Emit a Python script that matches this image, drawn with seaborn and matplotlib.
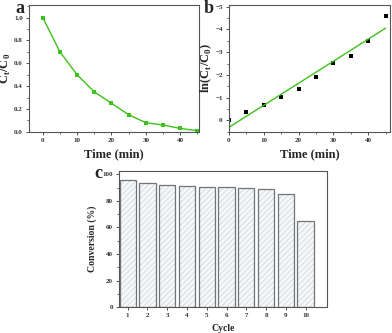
import numpy as np
import pandas as pd
import matplotlib.pyplot as plt
import seaborn as sns
from matplotlib.ticker import MultipleLocator

# panel a: C/C0 vs time
time_min = [0, 5, 10, 15, 20, 25, 30, 35, 40, 45]
c_ratio = [1.0, 0.70, 0.50, 0.35, 0.25, 0.15, 0.08, 0.06, 0.03, 0.01]

# panel b: ln(C/C0) points + linear fit
ln_ratio = [0.0, -0.36, -0.69, -1.05, -1.39, -1.90, -2.53, -2.81, -3.50, -4.60]
fit_x = [0, 45]
fit_y = [0.30, -4.05]

# panel c: conversion per cycle
cycles = [1, 2, 3, 4, 5, 6, 7, 8, 9, 10]
conversion = [95.5, 93.5, 92.0, 91.5, 90.5, 90.2, 90.0, 89.0, 85.0, 65.0]

sns.set_style("ticks")
plt.rcParams['font.family'] = ['Liberation Serif', 'DejaVu Serif']
plt.rcParams['font.weight'] = 'bold'
plt.rcParams['axes.labelweight'] = 'bold'
plt.rcParams['hatch.linewidth'] = 0.4

green = '#3cc21a'
fig = plt.figure(figsize=(3.92, 3.33), dpi=100)

def style(ax):
    for s in ax.spines.values():
        s.set_linewidth(0.8)
        s.set_color('#555555')
        s.set_visible(True)
    ax.tick_params(labelsize=5, width=0.6, length=2.5, colors='#333333', pad=2)
    ax.tick_params(which='minor', width=0.5, length=1.5)
    for t in ax.get_xticklabels() + ax.get_yticklabels():
        t.set_fontweight('bold')

# a
ax1 = fig.add_axes([0.074, 0.604, 0.434, 0.381])
sns.lineplot(x=time_min, y=c_ratio, ax=ax1, color=green, lw=1.0,
             marker='s', markersize=2.5, markeredgewidth=0)
ax1.set_xlim(-4, 45.5)
ax1.set_ylim(0, 1.11)
ax1.xaxis.set_major_locator(MultipleLocator(10))
ax1.xaxis.set_minor_locator(MultipleLocator(5))
ax1.yaxis.set_major_locator(MultipleLocator(0.2))
ax1.yaxis.set_minor_locator(MultipleLocator(0.1))
ax1.yaxis.set_major_formatter(plt.FormatStrFormatter('%.1f'))
ax1.set_xlabel('Time (min)', fontsize=9, labelpad=4)
ax1.set_ylabel(r'C$_\mathregular{t}$/C$_\mathregular{0}$', fontsize=9, labelpad=1)
style(ax1)
fig.text(0.062, 0.975, 'a', fontsize=13, fontweight='bold', ha='right', va='center')

# b
ax2 = fig.add_axes([0.584, 0.604, 0.411, 0.381])
sns.lineplot(x=fit_x, y=fit_y, ax=ax2, color=green, lw=1.0)
sns.scatterplot(x=time_min, y=ln_ratio, ax=ax2, color='black', marker='s', s=5, linewidth=0)
ax2.set_xlim(0, 46.3)
ax2.set_ylim(0.5, -5.07)
ax2.xaxis.set_major_locator(MultipleLocator(10))
ax2.xaxis.set_minor_locator(MultipleLocator(5))
ax2.yaxis.set_major_locator(MultipleLocator(1))
ax2.yaxis.set_minor_locator(MultipleLocator(0.5))
ax2.set_xlabel('Time (min)', fontsize=9, labelpad=4)
ax2.set_ylabel(r'ln(C$_\mathregular{t}$/C$_\mathregular{0}$)', fontsize=9, labelpad=1)
style(ax2)
fig.text(0.545, 0.975, 'b', fontsize=13, fontweight='bold', ha='right', va='center')

# c
ax3 = fig.add_axes([0.304, 0.078, 0.531, 0.408])
df = pd.DataFrame({'Cycle': cycles, 'Conversion': conversion})
# hatched fill with light hatch lines, then outline drawn on top
sns.barplot(data=df, x='Cycle', y='Conversion', ax=ax3, native_scale=True,
            width=0.82, color='#f6f7f8', edgecolor='#c4c8cc', linewidth=0, hatch='//////')
sns.barplot(data=df, x='Cycle', y='Conversion', ax=ax3, native_scale=True,
            width=0.82, fill=False, edgecolor='#6e7478', linewidth=0.9)
ax3.set_xlim(0.57, 11.1)
ax3.set_ylim(0, 102.5)
ax3.set_xticks(cycles)
ax3.yaxis.set_major_locator(MultipleLocator(20))
ax3.yaxis.set_minor_locator(MultipleLocator(10))
ax3.set_xlabel('Cycle', fontsize=7, labelpad=4)
ax3.set_ylabel('Conversion (%)', fontsize=7, labelpad=4)
style(ax3)
fig.text(0.24, 0.48, 'c', fontsize=13, fontweight='bold', ha='left', va='center')

fig.savefig('out.png', dpi=100)
